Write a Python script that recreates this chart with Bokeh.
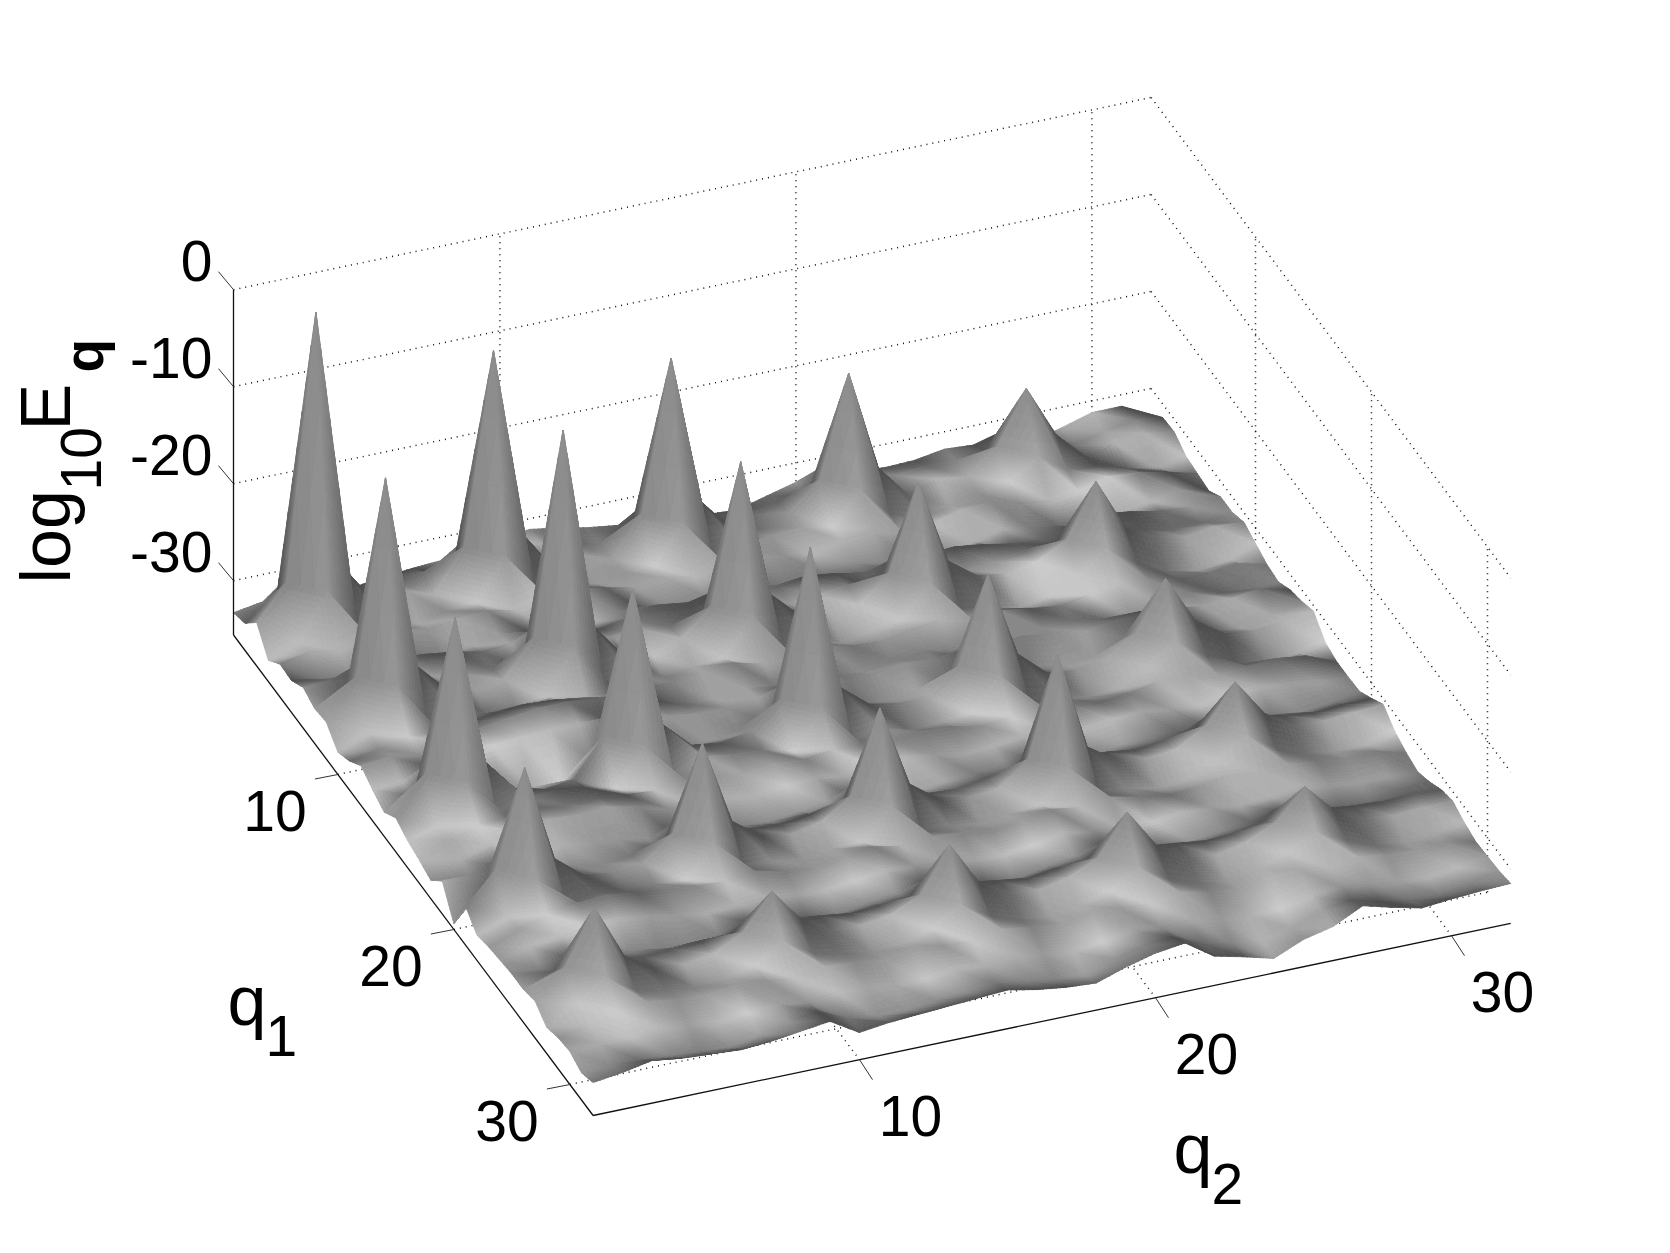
import numpy as np
from bokeh.plotting import figure
from bokeh.models import Range1d
from bokeh.core.properties import value
from bokeh.embed import file_html
from bokeh.resources import INLINE

q1_ticks = [10, 20, 30]
q2_ticks = [10, 20, 30]
z_ticks = [0, -10, -20, -30]
q_min, q_max = 1, 32
z_min, z_max = -35.6, 0

log_energy = [
[-33.3,-32.8,-32.2,-32.6,-33.3,-32.9,-32.6,-32.4,-31.8,-31.4,-31.1,-31.6,-32.2,-32.6,-32.6,-33.0,-33.4,-33.6,-32.8,-32.0,-31.8,-32.2,-32.4,-32.3,-31.8,-32.0,-31.6,-32.9,-32.1,-31.2,-31.2,-34.2],
[-32.8,-32.2,-27.6,-32.2,-32.2,-31.6,-31.4,-32.0,-27.8,-32.0,-31.0,-31.4,-32.2,-32.0,-28.2,-32.0,-32.4,-32.5,-31.8,-31.8,-28.6,-31.8,-31.6,-31.2,-31.4,-31.0,-29.0,-31.0,-32.2,-31.6,-31.0,-31.4],
[-31.1,-27.6,-0.4,-27.6,-31.6,-31.0,-32.0,-27.8,-8.2,-27.8,-31.8,-31.2,-32.2,-28.2,-12.8,-28.2,-31.6,-32.2,-31.2,-28.6,-18.2,-28.6,-32.0,-31.0,-31.4,-29.0,-23.6,-29.0,-32.0,-31.2,-30.8,-31.3],
[-33.4,-32.2,-27.6,-32.2,-32.4,-32.8,-32.2,-32.0,-27.8,-32.0,-32.2,-32.6,-32.0,-32.0,-28.2,-32.0,-32.2,-31.4,-31.2,-31.8,-28.6,-31.8,-32.6,-32.2,-31.6,-31.0,-29.0,-31.0,-31.2,-32.2,-32.8,-32.2],
[-32.2,-31.6,-32.0,-31.4,-31.2,-31.8,-31.4,-31.2,-31.8,-31.0,-30.8,-31.4,-32.0,-31.6,-32.2,-31.4,-31.2,-31.8,-32.4,-31.6,-31.2,-32.0,-31.8,-31.0,-30.8,-31.6,-32.0,-31.6,-30.8,-31.0,-31.6,-32.4],
[-32.3,-33.0,-32.8,-32.4,-33.0,-33.2,-32.6,-32.0,-32.4,-33.2,-32.8,-32.2,-33.0,-33.4,-32.6,-32.2,-33.2,-33.4,-32.8,-32.4,-33.0,-33.4,-33.6,-32.8,-32.0,-32.6,-33.2,-33.4,-33.0,-32.4,-31.8,-32.6],
[-31.4,-31.2,-31.6,-31.0,-30.6,-31.0,-31.6,-31.4,-30.8,-31.2,-31.8,-31.2,-30.6,-31.0,-31.4,-31.8,-31.2,-30.8,-31.2,-31.8,-32.0,-31.2,-31.0,-31.4,-32.0,-32.2,-31.4,-30.8,-31.2,-31.8,-32.0,-31.6],
[-32.0,-32.0,-27.8,-32.0,-31.2,-31.6,-31.8,-32.2,-27.6,-32.2,-31.0,-30.8,-31.2,-32.0,-28.2,-32.0,-31.4,-31.2,-30.8,-31.8,-28.6,-31.8,-31.8,-31.6,-31.0,-31.0,-29.0,-31.0,-31.4,-32.0,-32.0,-31.6],
[-31.8,-27.8,-7.9,-27.8,-30.8,-31.8,-31.2,-27.6,-6.8,-27.6,-31.2,-32.0,-30.8,-28.2,-13.9,-28.2,-31.0,-31.6,-31.2,-28.6,-19.9,-28.6,-30.8,-31.2,-30.6,-29.0,-23.6,-29.0,-30.4,-31.2,-30.8,-31.0],
[-33.3,-32.0,-27.8,-32.0,-32.2,-32.6,-32.4,-32.2,-27.6,-32.2,-32.0,-32.6,-32.2,-32.0,-28.2,-32.0,-32.4,-33.0,-32.4,-31.8,-28.6,-31.8,-32.6,-33.2,-32.6,-31.0,-29.0,-31.0,-32.6,-33.2,-32.8,-31.6],
[-32.6,-32.0,-31.4,-31.4,-31.2,-30.8,-30.6,-30.8,-31.2,-31.0,-31.4,-31.6,-31.2,-30.8,-31.6,-31.4,-31.0,-31.6,-31.8,-31.2,-30.8,-31.4,-31.2,-31.6,-32.0,-31.4,-30.8,-31.2,-31.8,-31.8,-31.4,-32.2],
[-31.5,-31.2,-31.6,-30.8,-30.2,-29.8,-29.4,-29.4,-29.6,-30.0,-31.2,-32.2,-32.4,-31.8,-32.2,-31.6,-32.4,-32.8,-32.2,-31.8,-32.4,-32.8,-32.6,-32.0,-31.8,-32.4,-32.8,-32.2,-31.6,-32.2,-32.6,-32.4],
[-32.4,-32.2,-31.2,-31.0,-30.4,-30.2,-30.0,-30.0,-30.4,-30.6,-31.2,-31.6,-31.6,-31.2,-30.8,-30.8,-31.2,-31.4,-30.8,-31.0,-31.4,-30.8,-30.6,-31.0,-31.4,-31.0,-30.6,-31.0,-31.4,-31.2,-30.8,-31.6],
[-33.1,-32.0,-28.2,-32.0,-33.4,-33.8,-33.8,-32.0,-28.2,-32.0,-33.0,-32.8,-32.2,-32.0,-28.2,-32.0,-32.2,-32.6,-32.0,-31.8,-28.6,-31.8,-32.2,-32.8,-32.4,-31.0,-29.0,-31.0,-32.4,-32.8,-32.0,-31.2],
[-32.1,-28.2,-12.7,-28.2,-31.6,-32.4,-32.0,-28.2,-13.6,-28.2,-31.0,-31.4,-30.8,-28.2,-13.1,-28.2,-30.6,-31.2,-31.0,-28.6,-19.8,-28.6,-31.2,-31.6,-31.0,-29.0,-24.0,-29.0,-31.0,-31.4,-31.0,-30.6],
[-32.8,-32.0,-28.2,-32.0,-31.0,-30.8,-31.2,-32.0,-28.2,-32.0,-30.6,-31.0,-31.2,-32.0,-28.2,-32.0,-31.6,-32.4,-32.2,-31.8,-28.6,-31.8,-32.4,-32.8,-32.6,-31.0,-29.0,-31.0,-32.6,-33.0,-32.8,-32.2],
[-33.2,-31.8,-31.0,-30.6,-30.4,-30.8,-30.6,-31.0,-31.2,-30.8,-31.0,-31.4,-31.0,-31.2,-30.8,-31.0,-31.2,-30.8,-31.0,-31.6,-31.2,-30.8,-31.2,-31.6,-31.4,-30.8,-31.0,-31.4,-31.2,-31.0,-31.4,-32.6],
[-33.7,-32.2,-31.2,-30.6,-30.0,-30.2,-30.0,-30.6,-31.4,-31.8,-31.6,-32.0,-31.6,-31.4,-31.8,-31.6,-31.2,-31.6,-32.2,-32.0,-31.6,-31.8,-32.2,-31.8,-31.6,-32.0,-32.4,-31.8,-31.6,-32.0,-32.4,-32.6],
[-32.2,-32.2,-32.0,-31.4,-31.0,-31.4,-31.8,-32.4,-32.8,-32.6,-33.0,-33.2,-32.8,-32.4,-32.6,-33.0,-33.2,-32.8,-32.6,-32.4,-32.6,-33.2,-33.4,-32.8,-32.6,-33.0,-33.2,-32.8,-33.0,-33.4,-33.0,-32.5],
[-35.0,-31.8,-28.6,-31.8,-31.6,-32.0,-31.8,-31.8,-28.6,-31.8,-31.6,-31.8,-31.4,-31.8,-28.6,-31.8,-31.8,-32.0,-31.4,-31.8,-28.6,-31.8,-31.4,-31.8,-31.4,-31.0,-29.0,-31.0,-31.4,-31.8,-31.6,-31.6],
[-31.6,-28.6,-18.6,-28.6,-31.0,-31.4,-31.0,-28.6,-19.9,-28.6,-30.8,-31.2,-30.6,-28.6,-20.1,-28.6,-30.8,-31.2,-31.0,-28.6,-18.4,-28.6,-30.6,-31.0,-30.8,-29.0,-25.1,-29.0,-30.8,-31.0,-30.8,-30.6],
[-33.0,-31.8,-28.6,-31.8,-31.2,-31.8,-31.6,-31.8,-28.6,-31.8,-31.8,-32.2,-31.8,-31.8,-28.6,-31.8,-32.0,-32.4,-32.0,-31.8,-28.6,-31.8,-32.0,-32.6,-32.2,-31.0,-29.0,-31.0,-32.2,-32.6,-32.6,-31.8],
[-32.6,-31.4,-30.6,-30.0,-29.8,-30.2,-30.6,-30.8,-31.0,-30.6,-31.2,-31.4,-31.0,-30.6,-31.2,-30.8,-31.0,-31.4,-31.2,-30.6,-31.0,-30.6,-31.2,-31.6,-31.4,-30.8,-31.2,-31.0,-31.4,-31.8,-31.6,-32.4],
[-32.4,-31.6,-31.2,-30.8,-30.6,-31.0,-31.6,-32.0,-31.8,-31.6,-32.0,-32.2,-31.8,-31.4,-31.6,-31.8,-32.2,-32.4,-32.0,-31.4,-31.8,-32.2,-32.2,-31.8,-32.0,-32.4,-32.2,-31.8,-32.2,-32.6,-32.6,-32.8],
[-32.2,-32.2,-31.8,-32.0,-32.4,-33.0,-33.2,-32.6,-32.0,-32.4,-33.0,-33.2,-32.6,-32.2,-31.8,-32.4,-33.2,-33.4,-32.8,-32.2,-31.8,-32.6,-33.4,-33.2,-32.8,-32.4,-32.0,-32.6,-33.0,-33.0,-32.4,-32.2],
[-32.2,-31.0,-29.0,-31.0,-31.4,-31.2,-31.0,-31.0,-29.2,-31.0,-31.0,-31.4,-31.2,-31.0,-29.2,-31.0,-31.2,-31.6,-31.2,-31.0,-29.2,-31.0,-31.2,-31.6,-31.4,-30.8,-29.4,-30.8,-31.2,-31.4,-31.2,-31.4],
[-31.8,-29.0,-23.4,-29.0,-31.0,-31.2,-30.8,-29.2,-25.6,-29.2,-30.8,-31.0,-30.6,-29.2,-24.6,-29.2,-30.8,-31.2,-30.6,-29.2,-25.1,-29.2,-30.8,-31.4,-30.8,-29.4,-26.3,-29.4,-30.8,-31.2,-31.0,-31.0],
[-32.9,-31.0,-29.0,-31.0,-31.4,-32.0,-31.8,-31.0,-29.2,-31.0,-31.6,-32.2,-32.0,-31.0,-29.2,-31.0,-32.0,-32.4,-31.8,-31.0,-29.2,-31.0,-32.0,-32.6,-32.0,-30.8,-29.4,-30.8,-32.0,-32.4,-32.0,-31.6],
[-32.4,-31.6,-31.0,-30.6,-31.0,-31.2,-30.8,-31.0,-31.4,-30.8,-31.0,-31.4,-30.8,-31.2,-31.4,-30.8,-31.2,-31.6,-31.0,-31.2,-31.4,-30.8,-31.4,-31.8,-31.2,-31.0,-31.4,-31.0,-31.4,-31.6,-31.4,-32.0],
[-32.2,-32.0,-32.0,-31.6,-32.0,-32.4,-32.0,-31.8,-32.2,-31.8,-32.0,-32.4,-32.4,-32.0,-32.2,-31.8,-32.4,-32.8,-32.4,-31.8,-32.2,-32.0,-32.6,-33.0,-32.8,-32.2,-31.8,-32.2,-32.6,-32.8,-32.4,-31.9],
[-32.8,-32.6,-32.8,-33.0,-33.2,-33.4,-32.8,-32.0,-31.6,-33.0,-33.4,-33.4,-33.0,-32.8,-32.6,-33.0,-33.4,-33.6,-32.6,-31.8,-31.6,-33.0,-33.6,-34.0,-33.2,-32.0,-31.6,-32.4,-33.0,-33.0,-32.4,-31.8],
[-32.2,-31.8,-31.2,-31.6,-31.8,-32.0,-31.8,-31.4,-31.0,-32.8,-32.4,-32.2,-32.0,-31.8,-31.6,-32.2,-32.6,-32.8,-31.8,-31.0,-30.6,-32.6,-33.3,-34.1,-32.8,-32.1,-30.6,-31.4,-32.1,-31.8,-31.6,-31.5],
]

# Oblique view of the axes box, in page pixels
ORIGIN = (233.0, 634.5)
STEP_Q1 = (11.6, 15.5)
STEP_Q2 = (29.6, -6.2)
STEP_Z = 9.7

def project(q1, q2, z):
    a, b = np.asarray(q1, float) - q_min, np.asarray(q2, float) - q_min
    x = ORIGIN[0] + STEP_Q1[0] * a + STEP_Q2[0] * b
    y = ORIGIN[1] + STEP_Q1[1] * a + STEP_Q2[1] * b - STEP_Z * (np.asarray(z, float) - z_min)
    return x, -y

Z = np.array(log_energy)
dz1, dz2 = np.gradient(Z)
k = 0.8
n = np.dstack([-dz1 * k, -dz2 * k, np.ones_like(Z)])
n /= np.linalg.norm(n, axis=2, keepdims=True)
light = np.array([0.62, -0.50, 0.60])
light /= np.linalg.norm(light)
diff = n @ light
view = np.array([0.79, -0.31, 0.52])
half = (light + view) / np.linalg.norm(light + view)
spec = np.clip(n @ half, 0, 1) ** 18
shade = np.clip(0.13 + 0.62 * np.clip((diff + 0.25) / 1.25, 0, 1) + 0.2 * spec, 0.30, 0.80)

xs, ys, cols = [], [], []

def emit(tri):
    """Fill one mesh triangle, with its grey varying between the three vertices."""
    sh = [shade[i, j] for i, j in tri]
    m = 1 + int(min(8, (max(sh) - min(sh)) / 0.022))
    def pt(a, b):
        c = m - a - b
        wt = (a / m, b / m, c / m)
        zz = sum(w * Z[i, j] for w, (i, j) in zip(wt, tri))
        q1 = sum(w * (i + 1) for w, (i, j) in zip(wt, tri))
        q2 = sum(w * (j + 1) for w, (i, j) in zip(wt, tri))
        g = sum(w * s for w, s in zip(wt, sh))
        x, y = project(q1, q2, zz)
        return float(x), float(y), g
    for a in range(m):
        for b in range(m - a):
            cells = [[pt(a, b), pt(a + 1, b), pt(a, b + 1)]]
            if a + b < m - 1:
                cells.append([pt(a + 1, b), pt(a + 1, b + 1), pt(a, b + 1)])
            for cell in cells:
                xs.append([round(v[0], 1) for v in cell])
                ys.append([round(v[1], 1) for v in cell])
                g = int(round(255 * sum(v[2] for v in cell) / 3))
                cols.append("#%02x%02x%02x" % (g, g, g))

N = Z.shape[0]
for i in range(N - 1):
    for j in range(N - 2, -1, -1):
        emit([(i, j), (i, j + 1), (i + 1, j + 1)])
        emit([(i, j), (i + 1, j + 1), (i + 1, j)])

p = figure(width=1654, height=1237, output_backend="svg", toolbar_location=None,
           x_range=Range1d(0, 1654), y_range=Range1d(-1237, 0),
           min_border=0, outline_line_color=None)
p.axis.visible = False
p.grid.visible = False
p.background_fill_color = "white"

def seg(q1a, q2a, za, q1b, q2b, zb, **kw):
    xa, ya = project(q1a, q2a, za)
    xb, yb = project(q1b, q2b, zb)
    p.line([float(xa), float(xb)], [float(ya), float(yb)], **kw)

dot = dict(line_color="#111111", line_width=1.5, line_dash="1 5")
for z in z_ticks:
    seg(q_min, q_min, z, q_min, q_max, z, **dot)
    seg(q_min, q_max, z, q_max, q_max, z, **dot)
for q in q2_ticks:
    seg(q_min, q, z_min, q_min, q, z_max, **dot)
    seg(q_min, q, z_min, q_max, q, z_min, **dot)
for q in q1_ticks:
    seg(q, q_max, z_min, q, q_max, z_max, **dot)
    seg(q, q_min, z_min, q, q_max, z_min, **dot)

p.patches(xs, ys, fill_color=cols, line_color=cols, line_width=0.8)

solid = dict(line_color="#111111", line_width=1.3)
seg(q_min, q_min, z_min, q_min, q_min, z_max, **solid)
seg(q_min, q_min, z_min, q_max, q_min, z_min, **solid)
seg(q_max, q_min, z_min, q_max, q_max, z_min, **solid)

font = value("Liberation Sans")
tick = dict(line_color="#333333", line_width=1.0)
def label(x, y, text, size, **kw):
    p.text([x], [y], text=[text], text_font=font, text_font_size=size, text_color="black",
           **kw)

for z in z_ticks:
    x0, y0 = project(q_min, q_min, z)
    p.line([float(x0), float(x0) - 15], [float(y0), float(y0) + 18], **tick)
    label(float(x0) - 21, float(y0) + 29, str(z), "57px", text_align="right", text_baseline="middle")
for q in q1_ticks:
    x0, y0 = project(q, q_min, z_min)
    p.line([float(x0), float(x0) - 23], [float(y0), float(y0) - 4.5], **tick)
    label(float(x0) - 63, float(y0) - 36, str(q), "57px", text_align="center", text_baseline="middle")
for q in q2_ticks:
    x0, y0 = project(q_max, q, z_min)
    p.line([float(x0), float(x0) + 13], [float(y0), float(y0) - 20], **tick)
    label(float(x0) + 51, float(y0) - 56, str(q), "57px", text_align="center", text_baseline="middle")

base = dict(text_align="left", text_baseline="alphabetic")
label(227, -1000, "q", "70px", **base)
label(265, -1035, "1", "57px", **base)
label(1173, -1148, "q", "70px", **base)
label(1211, -1183, "2", "57px", **base)
rot = dict(angle=np.pi / 2, **base)
label(45, -583, "log", "70px", **rot)
label(80, -490, "10", "57px", **rot)
label(45, -430, "E", "70px", **rot)
p.text([83], [-372], text=["q"], text_font=font, text_font_size="55px", text_font_style="bold",
       text_color="black", **rot)

open("out.html", "w").write(file_html(p, INLINE))
